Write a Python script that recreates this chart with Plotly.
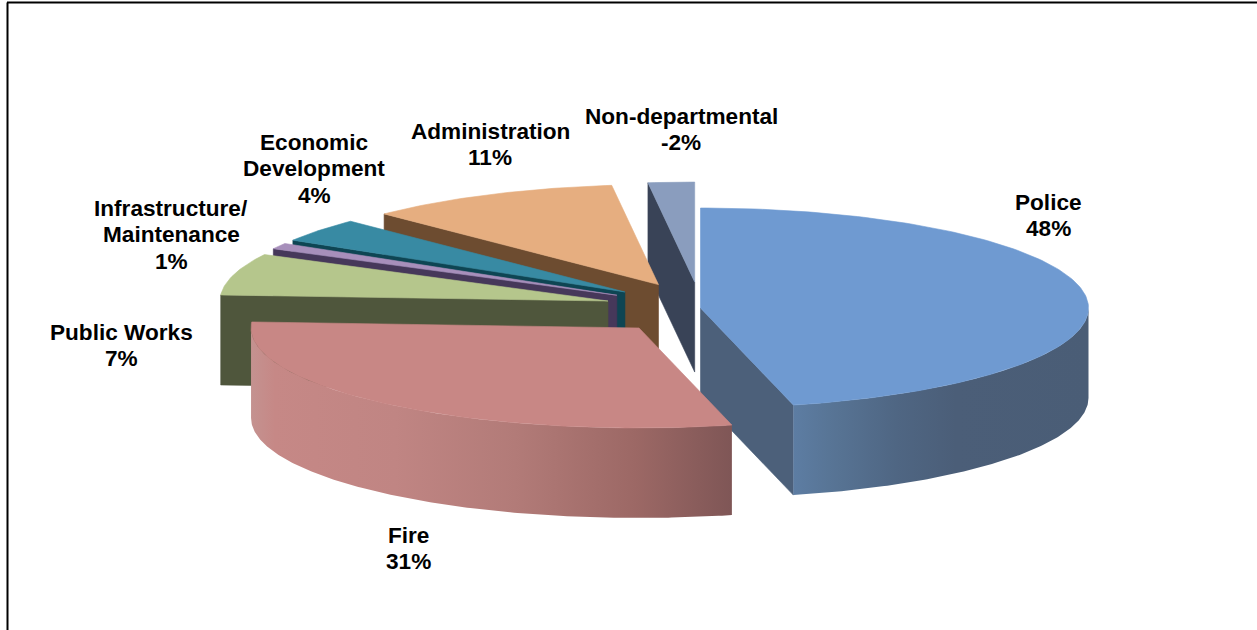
import numpy as np
import plotly.graph_objects as go

# Budget shares by department, in pie order (clockwise from twelve o'clock)
departments = ["Police", "Fire", "Public Works", "Infrastructure/<br>Maintenance",
               "Economic<br>Development", "Administration", "Non-departmental"]
shares = [48, 31, 7, 1, 4, 11, -2]

top_colors = ["#6F9AD1", "#C88785", "#B5C68C", "#A78FBB", "#388AA3", "#E6AE80", "#8A9DBE"]
side_colors = ["#4C607A", "#7F5454", "#4F563C", "#46385A", "#0E4553", "#6D4C30", "#394357"]
exploded = [False, True, True, True, True, True, True]

# Wall shading from the left end of each visible wall to its right end
police_wall = [[0, "#5D7DA3"], [0.12, "#587596"], [0.35, "#4F6683"], [0.55, "#4B5E78"], [1, "#4A5D76"]]
fire_wall = [[0, "#C49290"], [0.05, "#C68886"], [0.3, "#C08583"], [0.55, "#B27B78"],
             [0.8, "#9C6865"], [1, "#7F5656"]]
wall_scales = {0: police_wall, 1: fire_wall}

# Page position of each label's first line, in pixels
label_x = [1048, 408, 121, 171, 314, 490, 681]
label_y = [202, 535, 332, 208, 142, 131, 116]
LINE_STEP = 26.6

# Projection of the tilted pie onto the page
CX, CY = 700.5, 308
RX, RY = 388, 100
DEPTH = 90
EXPLODE_X, EXPLODE_Y = 96, 26


def rim_point(apex, deg):
    a = np.radians(deg)
    return apex[0] + RX * np.sin(a), apex[1] - RY * np.cos(a)


def polygon(xs, ys, color):
    return go.Scatter(x=list(xs), y=list(ys), mode="lines", fill="toself", fillcolor=color,
                      line=dict(color=color, width=0.6), hoverinfo="skip", showlegend=False)


weights = np.abs(shares) / np.sum(np.abs(shares)) * 360
ends = np.cumsum(weights)
starts = ends - weights
mids = (starts + ends) / 2

fig = go.Figure()

# Paint from the back of the pie to the front: last slice first, Fire on top
order = [6, 5, 4, 3, 2, 0, 1]
for i in order:
    m = np.radians(mids[i])
    apex = (CX, CY)
    if exploded[i]:
        apex = (CX + EXPLODE_X * np.sin(m), CY - EXPLODE_Y * np.cos(m))
    a1, a2 = starts[i], ends[i]

    # Cut faces that turn towards the viewer
    for edge, normal in ((a1, a1 - 90), (a2, a2 + 90)):
        if -np.cos(np.radians(normal)) > 1e-6:
            px, py = rim_point(apex, edge)
            fig.add_trace(polygon([apex[0], px, px, apex[0], apex[0]],
                                  [apex[1], py, py + DEPTH, apex[1] + DEPTH, apex[1]],
                                  side_colors[i]))

    # Outer wall with a horizontal gradient
    lo, hi = max(a1, 90), min(a2, 270)
    if hi > lo:
        arc = np.linspace(lo, hi, int(hi - lo) * 2 + 2)
        pts = [rim_point(apex, d) for d in arc]
        wall_x = [p[0] for p in pts] + [p[0] for p in reversed(pts)]
        wall_y = [p[1] for p in pts] + [p[1] + DEPTH for p in reversed(pts)]
        fig.add_trace(go.Scatter(
            x=wall_x + wall_x[:1], y=wall_y + wall_y[:1], mode="lines", fill="toself",
            fillgradient=dict(type="horizontal", colorscale=wall_scales[i]),
            line=dict(width=0), hoverinfo="skip", showlegend=False))

    # Top face
    arc = np.linspace(a1, a2, max(int(a2 - a1) + 2, 4))
    pts = [rim_point(apex, d) for d in arc]
    fig.add_trace(polygon([apex[0]] + [p[0] for p in pts] + [apex[0]],
                          [apex[1]] + [p[1] for p in pts] + [apex[1]], top_colors[i]))

# Labels are stacked line by line to keep the tight leading
for name, share, lx, ly in zip(departments, shares, label_x, label_y):
    for n, line in enumerate(name.split("<br>") + [f"{share}%"]):
        fig.add_annotation(x=lx, y=ly + n * LINE_STEP, text=f"<b>{line}</b>", showarrow=False,
                           font=dict(family="Liberation Sans", size=22.6, color="black"),
                           align="center", xanchor="center", yanchor="middle")

fig.update_layout(
    width=1257, height=630, margin=dict(l=0, r=0, t=0, b=0),
    paper_bgcolor="white", plot_bgcolor="white", showlegend=False,
    xaxis=dict(range=[0, 1257], visible=False, fixedrange=True),
    yaxis=dict(range=[630, 0], visible=False, fixedrange=True),
    shapes=[dict(type="line", xref="x", yref="y", x0=7.5, x1=7.5, y0=2.5, y1=630,
                 line=dict(color="black", width=2)),
            dict(type="line", xref="x", yref="y", x0=7, x1=1257, y0=2.5, y1=2.5,
                 line=dict(color="black", width=2))],
)
fig.write_html("out.html")
